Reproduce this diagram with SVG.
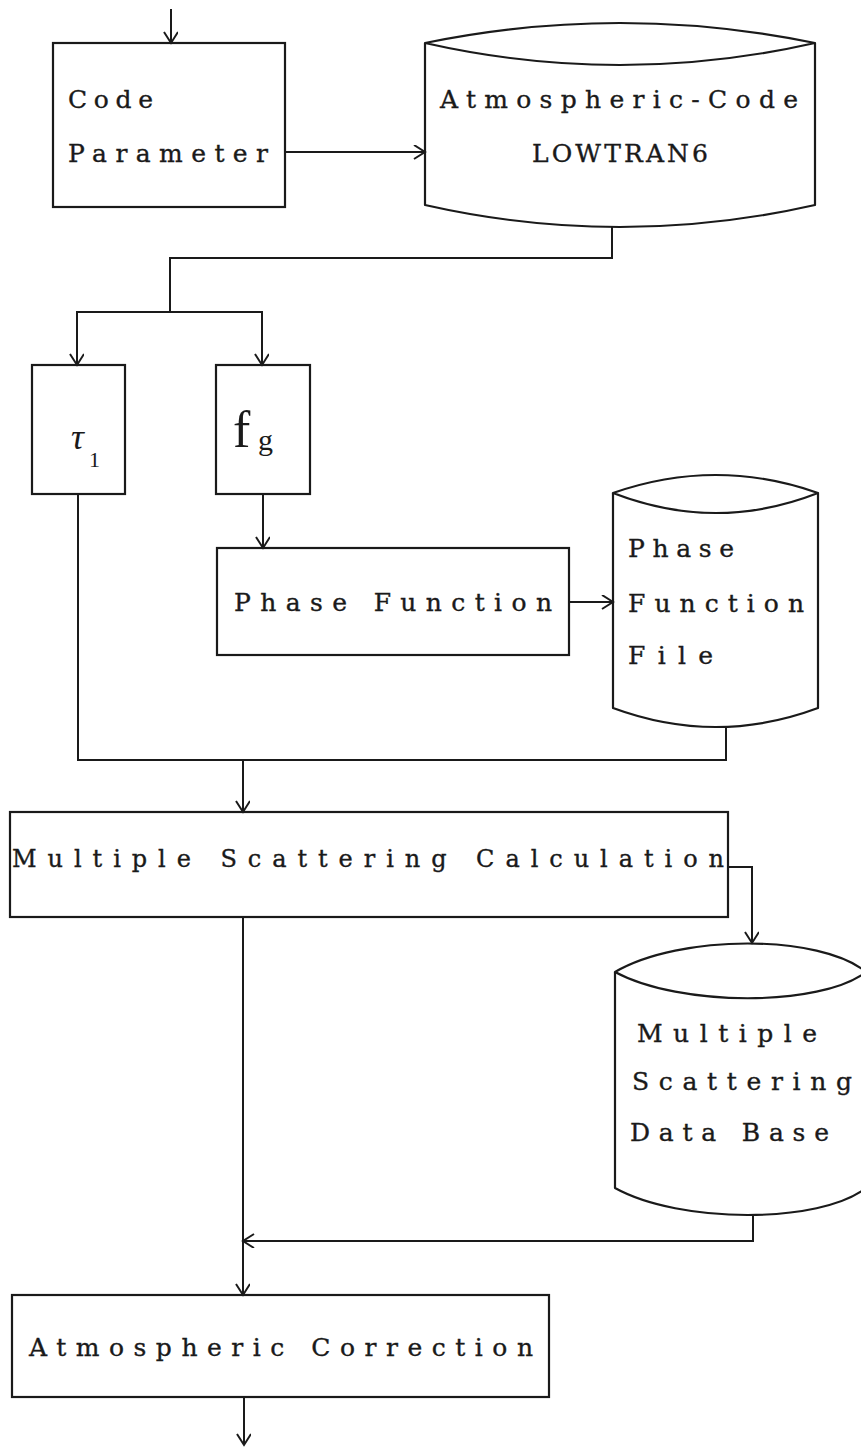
<svg xmlns="http://www.w3.org/2000/svg" width="861" height="1447" viewBox="0 0 861 1447">
<style>
.box{fill:none;stroke:#1a1a1a;stroke-width:2.2}
.cyl{fill:none;stroke:#1a1a1a;stroke-width:2.2;stroke-linejoin:round}
.con{fill:none;stroke:#1a1a1a;stroke-width:2}
.t{font-family:"DejaVu Serif","Liberation Serif",serif;font-size:25px;fill:#1a1a1a;stroke:#1a1a1a;stroke-width:0.35}
.ts{font-family:"DejaVu Serif","Liberation Serif",serif;font-size:24px;fill:#1a1a1a;stroke:#1a1a1a;stroke-width:0.35}
</style>
<defs>
<marker id="ah" markerUnits="userSpaceOnUse" markerWidth="16" markerHeight="16" refX="12" refY="7" orient="auto">
<path d="M1,0 L12,7 L1,14" fill="none" stroke="#1a1a1a" stroke-width="2"/>
</marker>
</defs>
<rect width="861" height="1447" fill="#ffffff"/>

<g id="connectors">
<path class="con" d="M171,9 L171,43" marker-end="url(#ah)"/>
<path class="con" d="M285,152 L425,152" marker-end="url(#ah)"/>
<path class="con" d="M612,227 L612,258 L170,258 L170,312"/>
<path class="con" d="M170,312 L77,312 L77,365" marker-end="url(#ah)"/>
<path class="con" d="M170,312 L262,312 L262,365" marker-end="url(#ah)"/>
<path class="con" d="M263,494 L263,548" marker-end="url(#ah)"/>
<path class="con" d="M569,602 L613,602" marker-end="url(#ah)"/>
<path class="con" d="M78,494 L78,760 L726,760 L726,727"/>
<path class="con" d="M243,760 L243,812" marker-end="url(#ah)"/>
<path class="con" d="M728,867 L752,867 L752,943" marker-end="url(#ah)"/>
<path class="con" d="M243,917 L243,1295" marker-end="url(#ah)"/>
<path class="con" d="M753,1215 L753,1241 L243,1241" marker-end="url(#ah)"/>
<path class="con" d="M244,1397 L244,1445" marker-end="url(#ah)"/>
</g>

<g id="code-parameter">
<rect class="box" x="53" y="43" width="232" height="164"/>
<text class="t" x="68" y="108" textLength="85" lengthAdjust="spacing">Code</text>
<text class="t" x="68" y="162" textLength="200" lengthAdjust="spacing">Parameter</text>
</g>

<g id="lowtran">
<path class="cyl" d="M425,43 L425,205 Q620,249 815,205 L815,43"/>
<path class="cyl" d="M425,43 Q620,3 815,43 Q620,87 425,43 Z"/>
<text class="t" x="440" y="108" textLength="358" lengthAdjust="spacing">Atmospheric-Code</text>
<text class="t" x="532" y="162" textLength="176" lengthAdjust="spacing">LOWTRAN6</text>
</g>

<g id="tau">
<rect class="box" x="32" y="365" width="93" height="129"/>
<text x="71" y="449" style="font-family:'Liberation Serif',serif;font-style:italic;font-size:36px;fill:#1a1a1a">τ</text>
<text x="89" y="467" style="font-family:'Liberation Serif',serif;font-size:22px;fill:#1a1a1a">1</text>
</g>

<g id="fg">
<rect class="box" x="216" y="365" width="94" height="129"/>
<text x="233" y="447" style="font-family:'Liberation Serif',serif;font-size:52px;fill:#1a1a1a">f</text>
<text x="258" y="450" style="font-family:'Liberation Serif',serif;font-size:30px;fill:#1a1a1a">g</text>
</g>

<g id="phase-function">
<rect class="box" x="217" y="548" width="352" height="107"/>
<text class="t" x="234" y="611" textLength="318" lengthAdjust="spacing">Phase Function</text>
</g>

<g id="phase-function-file">
<path class="cyl" d="M613,493 L613,708 Q716,746 818,708 L818,493"/>
<path class="cyl" d="M613,493 Q716,457 818,493 Q716,533 613,493 Z"/>
<text class="t" x="628" y="557" textLength="106" lengthAdjust="spacing">Phase</text>
<text class="t" x="628" y="612" textLength="176" lengthAdjust="spacing">Function</text>
<text class="t" x="628" y="664" textLength="85" lengthAdjust="spacing">File</text>
</g>

<g id="multiple-scattering-calculation">
<rect class="box" x="10" y="812" width="718" height="105"/>
<text class="ts" x="12" y="867" textLength="712" lengthAdjust="spacing">Multiple Scattering Calculation</text>
</g>

<g id="multiple-scattering-database">
<path class="cyl" d="M615,972 L615,1188 C680,1224 820,1224 866,1188 L866,972"/>
<path class="cyl" d="M615,972 C680,934 820,934 866,972 C820,1007 680,1007 615,972 Z"/>
<text class="t" x="637" y="1042" textLength="180" lengthAdjust="spacing">Multiple</text>
<text class="t" x="632" y="1090" textLength="220" lengthAdjust="spacing">Scattering</text>
<text class="t" x="630" y="1141" textLength="199" lengthAdjust="spacing">Data Base</text>
</g>

<g id="atmospheric-correction">
<rect class="box" x="12" y="1295" width="537" height="102"/>
<text class="t" x="29" y="1356" textLength="504" lengthAdjust="spacing">Atmospheric Correction</text>
</g>
</svg>
